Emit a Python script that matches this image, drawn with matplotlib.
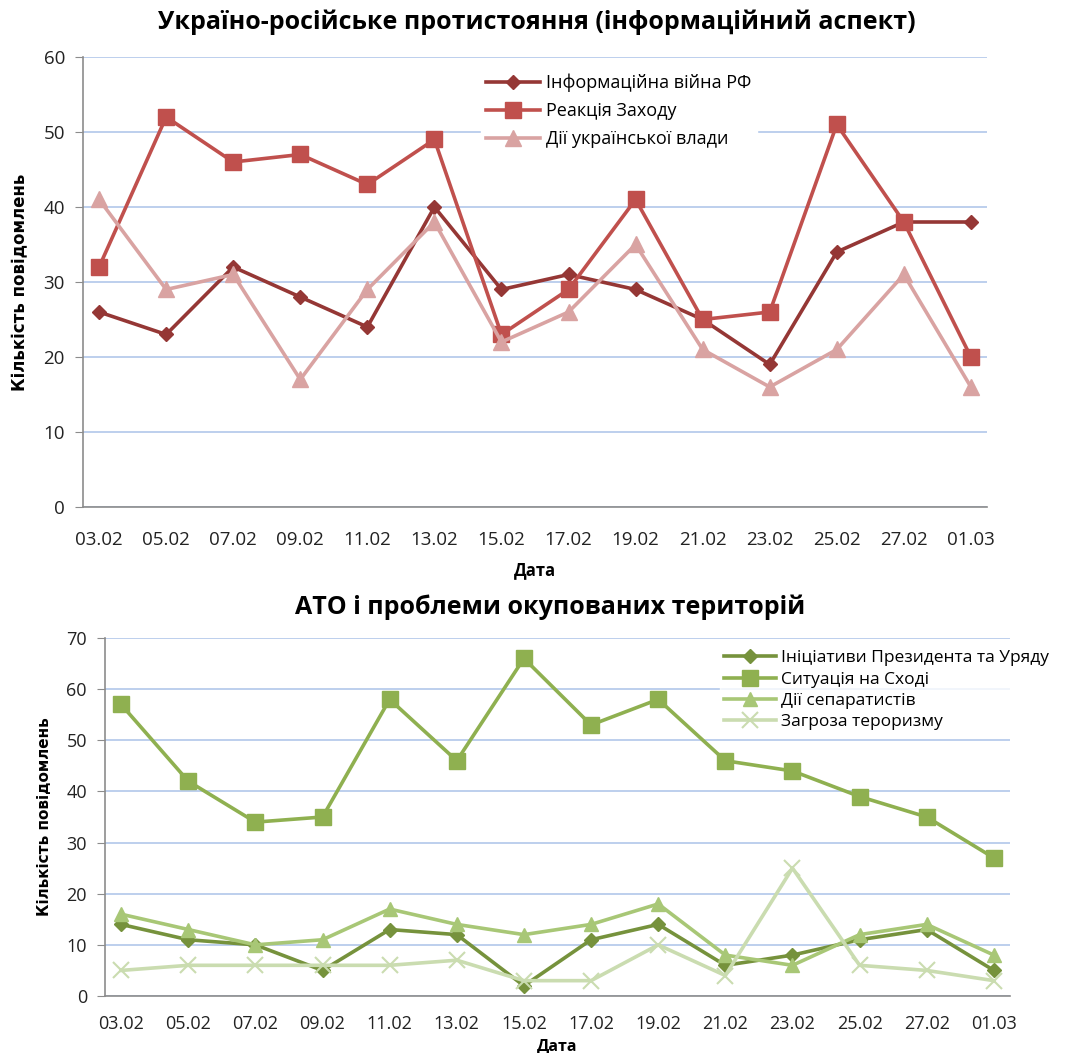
import matplotlib
matplotlib.use("Agg")
import matplotlib.pyplot as plt
import numpy as np

dates = ["03.02", "05.02", "07.02", "09.02", "11.02", "13.02", "15.02",
         "17.02", "19.02", "21.02", "23.02", "25.02", "27.02", "01.03"]

# Top chart
info_war = [26, 23, 32, 28, 24, 40, 29, 31, 29, 25, 19, 34, 38, 38]
west_reaction = [32, 52, 46, 47, 43, 49, 23, 29, 41, 25, 26, 51, 38, 20]
ua_gov = [41, 29, 31, 17, 29, 38, 22, 26, 35, 21, 16, 21, 31, 16]
top_names = ["Інформаційна війна РФ", "Реакція Заходу", "Дії української влади"]

# Bottom chart
initiatives = [14, 11, 10, 5, 13, 12, 2, 11, 14, 6, 8, 11, 13, 5]
east_situation = [57, 42, 34, 35, 58, 46, 66, 53, 58, 46, 44, 39, 35, 27]
separatists = [16, 13, 10, 11, 17, 14, 12, 14, 18, 8, 6, 12, 14, 8]
terrorism = [5, 6, 6, 6, 6, 7, 3, 3, 10, 4, 25, 6, 5, 3]
bot_names = ["Ініціативи Президента та Уряду", "Ситуація на Сході",
             "Дії сепаратистів", "Загроза тероризму"]

plt.rcParams['font.family'] = ['Open Sans', 'DejaVu Sans']

W, H = 1085, 1053
fig = plt.figure(figsize=(W / 100, H / 100), dpi=100)

def ax_px(l, t, r, b):
    return fig.add_axes([l / W, 1 - b / H, (r - l) / W, (b - t) / H])

grid_c = "#b8cbec"
spine_c = "#8c8c8c"
tick_c = "#222222"

def style(ax, ymax, step, fs, xpad):
    x = np.arange(len(dates))
    ax.set_xlim(-0.24, len(dates) - 1 + 0.24)
    ax.set_ylim(0, ymax)
    ax.set_yticks(np.arange(0, ymax + 1, step))
    ax.set_xticks(x)
    ax.set_xticklabels(dates)
    ax.yaxis.grid(True, color=grid_c, linewidth=1.3)
    ax.set_axisbelow(True)
    for s in ["top", "right"]:
        ax.spines[s].set_visible(False)
    for s in ["left", "bottom"]:
        ax.spines[s].set_color(spine_c)
        ax.spines[s].set_linewidth(1.2)
    ax.tick_params(axis="y", length=6, color=spine_c, labelsize=fs, labelcolor=tick_c, pad=7)
    ax.tick_params(axis="x", length=0, labelsize=fs, labelcolor=tick_c, pad=xpad)

# ---------- Top ----------
ax1 = ax_px(83, 57, 987, 507)
x = np.arange(len(dates))
ax1.plot(x, info_war, color="#953735", lw=2.6, marker="D", ms=7, label=top_names[0])
ax1.plot(x, west_reaction, color="#c0504d", lw=2.6, marker="s", ms=11, label=top_names[1])
ax1.plot(x, ua_gov, color="#d9a3a2", lw=2.6, marker="^", ms=11, label=top_names[2])
style(ax1, 60, 10, 13.5, 17)
ax1.set_ylabel("Кількість повідомлень", fontsize=12, fontweight="bold", labelpad=10,
               family=["Liberation Sans Narrow", "DejaVu Sans"])
ax1.set_xlabel("Дата", fontsize=12, fontweight="bold", labelpad=9)
leg1 = ax1.legend(loc="upper left", bbox_to_anchor=(0.43, 0.995), frameon=True,
                  fontsize=13, handlelength=3.0, handletextpad=0.3, labelspacing=0.55,
                  borderpad=0.3, fancybox=False)
leg1.get_frame().set_edgecolor("white")
leg1.get_frame().set_facecolor("white")
leg1.get_frame().set_alpha(1)
fig.text(537 / W, 1 - 22 / H, "Україно-російське протистояння (інформаційний аспект)",
         ha="center", va="center", fontsize=18, fontweight="bold")

# ---------- Bottom ----------
ax2 = ax_px(105, 638, 1010, 996)
ax2.plot(x, initiatives, color="#76923c", lw=2.6, marker="D", ms=7, label=bot_names[0])
ax2.plot(x, east_situation, color="#8fb050", lw=2.6, marker="s", ms=11, label=bot_names[1])
ax2.plot(x, separatists, color="#a8c776", lw=2.6, marker="^", ms=10, label=bot_names[2])
ax2.plot(x, terrorism, color="#cadcb0", lw=2.6, marker="x", ms=11, mew=1.5, label=bot_names[3])
style(ax2, 70, 10, 13, 14)
ax2.set_ylabel("Кількість повідомлень", fontsize=11, fontweight="bold", labelpad=10,
               family=["Liberation Sans Narrow", "DejaVu Sans"])
ax2.set_xlabel("Дата", fontsize=11.5, fontweight="bold", labelpad=4)
leg2 = ax2.legend(loc="upper left", bbox_to_anchor=(0.67, 1.0), frameon=True,
                  fontsize=12.5, handlelength=3.0, handletextpad=0.3, labelspacing=0.3,
                  borderpad=0.2, fancybox=False)
leg2.get_frame().set_edgecolor("white")
leg2.get_frame().set_facecolor("white")
fig.text(550 / W, 1 - 607 / H, "АТО і проблеми окупованих територій",
         ha="center", va="center", fontsize=18, fontweight="bold")

fig.savefig("out.png", dpi=100)
